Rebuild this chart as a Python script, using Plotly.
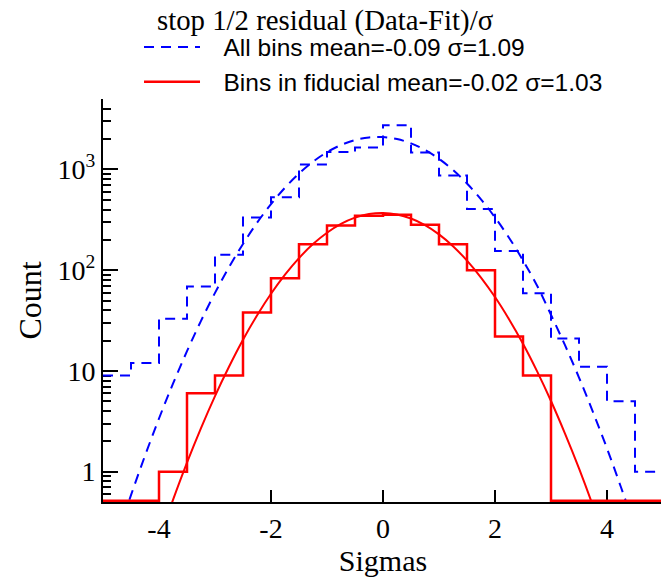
import numpy as np
import plotly.graph_objects as go

# Histogram bin edges (Sigmas)
bin_edges = [-5.0, -4.5, -4.0, -3.5, -3.0, -2.5, -2.0, -1.5, -1.0, -0.5, 0.0,
             0.5, 1.0, 1.5, 2.0, 2.5, 3.0, 3.5, 4.0, 4.5, 5.0]

# Counts: all bins
all_counts = [9, 12, 33, 69, 142, 333, 528, 1120, 1490, 1650,
              2750, 1470, 870, 405, 155, 59, 21, 11, 5, 1]

# Counts: bins in fiducial
fid_counts = [0, 0, 1, 6, 9, 38, 83, 181, 277, 347,
              355, 282, 181, 100, 22, 9, 0, 0, 0, 0]

# Fitted curves
fit_x = [-5.0, -4.75, -4.5, -4.25, -4.0, -3.75, -3.5, -3.25, -3.0, -2.75,
         -2.5, -2.25, -2.0, -1.75, -1.5, -1.25, -1.0, -0.75, -0.5, -0.25,
         0.0, 0.25, 0.5, 0.75, 1.0, 1.25, 1.5, 1.75, 2.0, 2.25,
         2.5, 2.75, 3.0, 3.25, 3.5, 3.75, 4.0, 4.25, 4.5]
all_fit = [0.083, 0.226, 0.585, 1.44, 3.37, 7.48, 15.7, 31.4, 59.5, 107,
           182, 295, 452, 659, 910, 1192, 1482, 1748, 1957, 2078,
           2093, 2000, 1814, 1561, 1274, 986, 725, 505, 334, 210,
           125, 70.5, 36, 18, 8.6, 3.9, 1.7, 0.7, 0.28]
fid_fit = [0.002, 0.01, 0.03, 0.08, 0.212, 0.525, 1.23, 2.71, 5.63, 11.0,
           20.4, 35.5, 58.3, 90.3, 131.8, 181.4, 235.3, 287.8, 331.9, 360.9,
           369.9, 357.5, 325.7, 279.8, 226.6, 173.0, 124.5, 84.5, 54.1, 32.6,
           18.6, 9.95, 5.03, 2.39, 1.08, 0.456, 0.18, 0.06, 0.02]

title_text = "stop 1/2 residual (Data-Fit)/σ"
label_all = "All bins mean=-0.09 σ=1.09"
label_fid = "Bins in fiducial mean=-0.02 σ=1.03"

y_tickvals = [1, 10, 100, 1000]
y_ticktext = ["1", "10", "10<sup>2</sup>", "10<sup>3</sup>"]
y_minor = [0.6, 0.7, 0.8, 0.9, 2, 3, 4, 5, 6, 7, 8, 9,
           20, 30, 40, 50, 60, 70, 80, 90,
           200, 300, 400, 500, 600, 700, 800, 900, 2000, 3000, 4000, 5000]
x_tickvals = [-4, -2, 0, 2, 4]
x_ticktext = ["-4", "-2", "0", "2", "4"]

y_min = 0.5
y_top = 5000
y_zero_draw = 0.515  # empty bins drawn just on the bottom axis

def step_y(counts):
    c = np.array(counts, dtype=float)
    c = np.where(c > 0, c, y_zero_draw)
    return list(c) + [c[-1]]

BLUE = "#0000ff"
RED = "#ff0000"
serif = "Liberation Serif, Times New Roman, serif"
sans = "Liberation Sans, Arial, sans-serif"
pad = "\u00a0\u00a0\u2009"

fig = go.Figure()
fig.add_trace(go.Scatter(x=fit_x, y=all_fit, mode="lines", line=dict(color=BLUE, width=2, dash="10px,7px", shape="spline"),
                         showlegend=False, hoverinfo="skip"))
fig.add_trace(go.Scatter(x=bin_edges, y=step_y(all_counts), mode="lines",
                         line=dict(color=BLUE, width=2, dash="10px,7px", shape="hv"), name=pad + label_all))
fig.add_trace(go.Scatter(x=fit_x, y=fid_fit, mode="lines", line=dict(color=RED, width=2, shape="spline"),
                         showlegend=False, hoverinfo="skip"))
fig.add_trace(go.Scatter(x=bin_edges, y=step_y(fid_counts), mode="lines",
                         line=dict(color=RED, width=2.5, shape="hv"), name=pad + label_fid))

fig.update_layout(
    width=669, height=577,
    margin=dict(l=95, r=14, t=91, b=83),
    paper_bgcolor="white", plot_bgcolor="white",
    title=dict(text=title_text, x=0.474, xanchor="center", y=0.979, yanchor="middle",
               font=dict(family=serif, size=28.8, color="black")),
    legend=dict(x=0.0643, y=1.0856, xanchor="left", yanchor="middle",
                orientation="v", bgcolor="rgba(0,0,0,0)", itemwidth=56, tracegroupgap=0,
                font=dict(family=sans, size=24.5, color="black")),
    showlegend=True,
)
fig.update_xaxes(range=[-5, 5], tickmode="array", tickvals=x_tickvals, ticktext=x_ticktext,
                 ticks="inside", ticklen=12, tickwidth=2, automargin=False, layer="below traces",
                 tickcolor="black", showline=True, linecolor="black", linewidth=2, showgrid=False,
                 zeroline=False, mirror=False,
                 tickfont=dict(family=serif, size=28, color="black"),
                 title=dict(text="Sigmas", font=dict(family=serif, size=30, color="black"), standoff=4))
fig.update_yaxes(type="log", range=[np.log10(y_min), np.log10(y_top)], tickmode="array",
                 tickvals=y_tickvals, ticktext=y_ticktext, ticks="inside", ticklen=15, tickwidth=2,
                 automargin=False, layer="below traces",
                 tickcolor="black", showline=True, linecolor="black", linewidth=2, showgrid=False,
                 zeroline=False, mirror=False,
                 minor=dict(tickmode="array", tickvals=y_minor, ticks="inside", ticklen=8, tickwidth=2,
                            tickcolor="black", showgrid=False),
                 tickfont=dict(family=serif, size=28, color="black"),
                 title=dict(text="Count", font=dict(family=serif, size=32, color="black"), standoff=6))

fig.write_html("out.html")
